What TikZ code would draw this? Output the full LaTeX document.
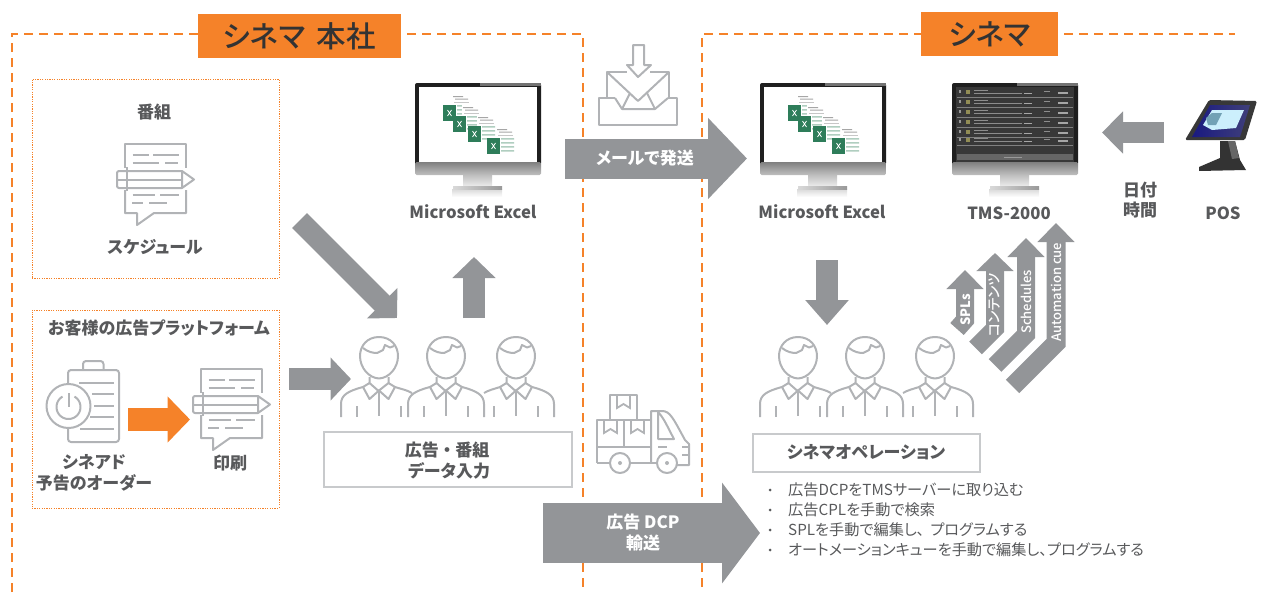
\documentclass[tikz,border=0pt]{standalone}
\usepackage{fontspec}
\setmainfont[RawFeature=+palt]{Noto Sans CJK JP}
\newfontfamily\medf[RawFeature=+palt]{Noto Sans CJK JP Medium}
\usetikzlibrary{arrows.meta}
\definecolor{org}{HTML}{F58229}
\definecolor{arw}{HTML}{939598}
\definecolor{ico}{HTML}{B1B3B6}
\definecolor{txt}{HTML}{58595B}
\definecolor{xgreen}{HTML}{2E7D5A}
\tikzset{
  fat/.style n args={3}{draw=#1,fill=none,line width=#2,line join=miter,-{Triangle[length=#3,width=1.9*#2,fill=#1]}},
  ic/.style={draw=ico,line width=2pt,line join=round,fill=none},
  ict/.style={draw=ico,line width=1.8pt},
  lab/.style={font=\bfseries\fontsize{17}{19}\selectfont,text=txt,inner sep=0pt,anchor=center},
  lat/.style={font=\bfseries\fontsize{16.7}{19}\selectfont,text=txt,inner sep=0pt,anchor=center},
  wlab/.style={font=\bfseries\fontsize{17}{19}\selectfont,text=white,inner sep=0pt,anchor=center},
  vlab/.style={font=\medf\fontsize{13}{14}\selectfont,text=white,inner sep=0pt,rotate=90,anchor=center},
  bul/.style={font=\fontsize{15.2}{17}\selectfont,text=txt,inner sep=0pt,anchor=west},
  hq/.style={draw=org,line width=1.6pt,dash pattern=on 9pt off 6pt},
  dotbox/.style={draw=org,line width=.9pt,dash pattern=on 1.2pt off 1.2pt},
  whitebox/.style={draw=ico!70,line width=1.4pt,fill=white},
  title/.style={fill=org,text=black!80,font=\medf\fontsize{29.5}{31}\selectfont,inner sep=0pt,anchor=center},
  docicon/.pic={
    \draw[ic] (0,24)--(0,0)--(61,0)--(61,24);
    \draw[ic] (0,46)--(0,69)--(12,69)--(12,81)--(29,69)--(61,69)--(61,46);
    \draw[ic,rounded corners=2pt] (57,27)--(-8,27)--(-8,44)--(57,44);
    \draw[ic] (57,27)--(69,35.5)--(57,44)--cycle;
    \draw[ic] (-8,35.5)--(57,35.5);
    \draw[ic] (2,23)--(2,47);
    \draw[ict] (7.5,11)--(24,11) (28,11)--(54,11) (7.5,19)--(34,19) (40,19)--(53,19);
    \draw[ict] (7.5,51)--(30,51) (35,51)--(54,51) (7,59)--(18,59) (24,59)--(42,59);
  },
  personicon/.pic={
    \draw[ic] (0,-21) .. controls (12,-21) and (19,-12) .. (19,-2) .. controls (19,10) and (10,20) .. (0,20.5) .. controls (-10,20) and (-19,10) .. (-19,-2) .. controls (-19,-12) and (-12,-21) .. (0,-21) -- cycle;
    \draw[ic] (-16,-10) .. controls (-11,-6) and (-6,-5) .. (-2,-5) -- (4,-8) -- (6,-13) -- (11,-10.5) -- (15,-12);
    \draw[ic] (-9.5,19)--(-9.5,25)--(-1,32.5)--(0,32.5)--(9.5,25)--(9.5,19);
    \draw[ic] (-9.5,25)--(-16,29)--(-9.5,41)--(0,32.5)--(9.5,41)--(16,29)--(9.5,25);
    \draw[ic] (0,32.5)--(0,58);
    \draw[ict] (-21.7,48)--(-21.7,59) (22,48)--(22,59);
  },
  leftfull/.pic={\draw[ic] (-38,59)--(-38,46) .. controls (-38,37) and (-31,33) .. (-16,29);},
  rightfull/.pic={\draw[ic] (16,29) .. controls (31,33) and (38,37) .. (38,46)--(38,59);},
  leftstub/.pic={\draw[ic] (-32,35) .. controls (-27,32) and (-22,31) .. (-16,29);},
  rightstub/.pic={\draw[ic] (16,29) .. controls (22,31) and (28,32) .. (33,35);},
  monitorbase/.pic={
    \shade[top color=black!15,bottom color=white] (37,106) rectangle (87,114);
    \shade[top color=black!25,bottom color=black!8] (48,92) rectangle (77,103);
    \shade[left color=black!15,right color=black!40] (38,103) rectangle (87,106.5);
    \fill[rounded corners=2pt,black!88] (0,0) rectangle (126,82);
    \fill[black!55] (65,0) rectangle (126,3);
    \shade[top color=black!50,bottom color=black!25,rounded corners=1.5pt] (0,79) rectangle (126,92);
  },
  excelscreen/.pic={
    \fill[white] (4,3.5) rectangle (122,78.5);
    \foreach \gx/\gy in {28/22,38/33,53/43,72/55}{
      \begin{scope}[shift={(\gx,\gy)}]
        \fill[white] (9,-11) rectangle (29,19);
        \fill[black!35] (10,-9) rectangle (20,-8) (12,-6.5) rectangle (25,-5.5);
        \fill[black!22] (11,-3.5) rectangle (26,-2.8);
        \fill[xgreen!38] (14,0) rectangle (27,1.6) (14,4) rectangle (27,5.6) (14,8) rectangle (27,9.6) (14,12) rectangle (27,13.6);
        \fill[xgreen] (0,0) rectangle (13,16);
        \draw[white,line width=.8pt] (4.5,5)--(8.5,11) (8.5,5)--(4.5,11);
      \end{scope}}
  },
  tmsscreen/.pic={
    \fill[black!78] (4,4) rectangle (122,79);
    \foreach \ry in {9,19,29,39,49,57}{
      \draw[black!50,line width=.5pt] (5,\ry+5)--(121,\ry+5);
      \fill[black!40] (7,\ry-2) rectangle (9,\ry+1);
      \fill[olive!60!black!70!white] (14,\ry-2) rectangle (18,\ry+2);
      \fill[black!45] (22,\ry-2.5) rectangle (36,\ry-1.5);
      \fill[black!45] (22,\ry+1) rectangle (70,\ry+1.8);
      \fill[black!35] (72,\ry+.5) rectangle (80,\ry+2);
      \fill[black!45] (92,\ry-1) rectangle (98,\ry);
      \fill[black!35] (106,\ry) rectangle (116,\ry+2);
    }
    \fill[black!60] (5,71) rectangle (121,77);
    \fill[black!40] (52,73.5) rectangle (70,74.5);
  },
}
\begin{document}
\begin{tikzpicture}[x=1pt,y=-1pt]
\useasboundingbox (0,0) rectangle (1269,592);
% dashed frames
\draw[hq] (12,592)--(12,34)--(198,34);
\draw[hq] (407,34)--(583,34)--(583,592);
\draw[hq] (702,587)--(702,34)--(921,34);
\draw[hq] (1064,34)--(1235,34);
\node[title,minimum width=203pt,minimum height=44pt] (t1) at (299.5,36) {シネマ\hspace{5pt} 本社};
\node[title,minimum width=137pt,minimum height=44pt] (t2) at (989.5,34) {シネマ};
% left boxes
\node[dotbox,minimum width=247pt,minimum height=199pt,inner sep=0pt] (b1) at (155.5,178.5) {};
\node[dotbox,minimum width=247pt,minimum height=198pt,inner sep=0pt] (b2) at (155.5,409) {};
\node[lab] (l1) at (154,112) {番組};
\pic at (125,144) {docicon};
\node[lab] (l2) at (155,247) {スケジュール};
\node[lab] (l3) at (159,328) {お客様の広告プラットフォーム};
% clipboard
\draw[ic,rounded corners=3pt] (83,370)--(83,361)--(103.5,361)--(103.5,370);
\draw[ic,rounded corners=3pt] (68,385)--(68,370)--(119,370)--(119,442)--(68,442)--(68,427);
\draw[ict] (79,383)--(114,383) (92,394)--(114,394) (94,406)--(114,406) (90,417)--(114,417) (80,429)--(114,429);
\draw[ic,fill=white] (68.5,406) circle[radius=22pt];
\draw[ic] plot[domain=-60:240,samples=40,smooth] ({68.5+12*cos(\x)},{407+12*sin(\x)});
\draw[ic] (68.5,393)--(68.5,407);
\node[lab] (l4) at (94,462) {シネアド};
\node[lab] (l5) at (94,483) {予告のオーダー};
\coordinate (oa) at (128,419.5); \coordinate (ob) at (190,419.5);
\draw[fat={org}{23pt}{22.5pt},-{Triangle[length=22.5pt,width=45pt,fill=org]}] (oa)--(ob);
\pic at (201,369) {docicon};
\node[lab] (l6) at (230,463) {印刷};
% first gray arrows
\coordinate (d1) at (299.5,220.5); \coordinate (d2) at (397,318);
\draw[fat={arw}{21pt}{21pt},-{Triangle[length=21pt,width=42pt,fill=arw]}] (d1)--(d2);
\coordinate (g1) at (289,379); \coordinate (g2) at (351,379);
\draw[fat={arw}{22pt}{20.5pt},-{Triangle[length=20.5pt,width=42pt,fill=arw]}] (g1)--(g2);
\coordinate (u1) at (474,318); \coordinate (u2) at (474,257);
\draw[fat={arw}{22pt}{21pt},-{Triangle[length=21pt,width=42pt,fill=arw]}] (u1)--(u2);
% persons left
\foreach \px in {379,446,516}{\pic at (\px,358) {personicon};}
\pic at (379,358) {leftfull};
\pic at (379,358) {rightstub};
\pic at (446,358) {leftfull};
\pic at (446,358) {rightfull};
\pic at (516,358) {leftstub};
\pic at (516,358) {rightfull};
\node[whitebox,minimum width=248pt,minimum height=55pt,inner sep=0pt] (b3) at (448,459.5) {};
\node[lab] (l7) at (447,450) {広告\hspace{4pt}・\hspace{4pt}番組};
\node[lab] (l8) at (449,471) {データ入力};
% monitor 1
\pic at (415,83) {monitorbase};
\pic at (415,83) {excelscreen};
\node[lat] (l9) at (473,212) {Microsoft Excel};
% monitor 2
\pic at (760,83) {monitorbase};
\pic at (760,83) {excelscreen};
\node[lat] (l10) at (822,212) {Microsoft Excel};
% TMS
\pic at (952,83) {monitorbase};
\pic at (952,83) {tmsscreen};
\node[lat] (l11) at (1009,213) {TMS-2000};
% POS
\fill[black!78,rounded corners=1.5pt] (1185,140)--(1209,100)--(1257,101)--(1245,140)--cycle;
\shade[left color=blue!45!black!90,right color=blue!30!black!75] (1192,137)--(1210,105)--(1250,105)--(1240,137)--cycle;
\fill[cyan!20!white] (1203,125)--(1212,110)--(1244,110)--(1236,128)--(1212,130)--cycle;
\fill[cyan!55!black!70] (1206,118)--(1212,113)--(1222,113)--(1216,125)--(1208,125)--cycle;
\fill[black!80] (1220,141)--(1235,141)--(1240,160)--(1246,170)--(1199,171)--(1199,167)--(1220,158)--cycle;
\fill[black!60] (1228,141)--(1235,141)--(1239,158)--(1232,159)--cycle;
\node[lat] (l12) at (1223,213) {POS};
\node[lab] (l13) at (1140,190) {日付};
\node[lab] (l14) at (1140,210) {時間};
\coordinate (p1) at (1164,132.5); \coordinate (p2) at (1102,132.5);
\draw[fat={arw}{21pt}{21pt},-{Triangle[length=21pt,width=41pt,fill=arw]}] (p1)--(p2);
% mail
\draw[ic] (615,98)--(599,98)--(599,125)--(677,125)--(677,98)--(668,98);
\draw[ic] (615,98)--(622,109)--(655,109)--(668,98);
\draw[ic] (607,97)--(607,72)--(627,72) (650,72)--(669,72)--(669,97);
\draw[ic] (607,72)--(638,101)--(669,72);
\draw[ic] (622,109)--(630,93) (655,109)--(647,93);
\draw[ic] (633,65)--(633,45)--(644,45)--(644,65)--(651,65)--(638,77)--(627,65)--cycle;
\coordinate (m1) at (565,158.5); \coordinate (m2) at (747,158.5);
\draw[fat={arw}{40pt}{39pt},-{Triangle[length=39pt,width=79pt,fill=arw]}] (m1)--(m2);
\node[wlab] (l15) at (645,158) {メールで発送};
% truck
\draw[ic] (610,420)--(610,395)--(637,395)--(637,420);
\draw[ic] (597,463)--(597,420)--(651,420) (597,463)--(610,463) (630,463)--(657,463) (597,447)--(651,447) (624,420)--(624,447);
\draw[ic] (651,463)--(651,411)--(662,411) .. controls (670,411) and (673,418) .. (685,440) -- (689,444)--(689,465)--(677,465);
\draw[ic] (658,412)--(658,439)--(674,439) .. controls (668,428) and (664,418) .. (658,412);
\draw[ict] (658,447)--(667,447) (682,447)--(689,447) (682,455)--(689,455);
\draw[ict] (617,395)--(617,408)--(623.5,404)--(630,408)--(630,395);
\draw[ict] (604,420)--(604,433)--(610.5,429)--(617,433)--(617,420);
\draw[ict] (631,420)--(631,433)--(637.5,429)--(644,433)--(644,420);
\draw[ic,fill=white] (620,463) circle[radius=10pt] (667,463) circle[radius=10pt];
\fill[ico] (620,463) circle[radius=2pt] (667,463) circle[radius=2pt];
\coordinate (c1) at (543,533); \coordinate (c2) at (760,533);
\draw[fat={arw}{60pt}{38pt},-{Triangle[length=38pt,width=99pt,fill=arw]}] (c1)--(c2);
\node[wlab] (l16) at (643,522) {広告 DCP};
\node[wlab] (l17) at (643,543) {輸送};
% right side
\coordinate (n1) at (827,260); \coordinate (n2) at (827,325);
\draw[fat={arw}{22pt}{25pt},-{Triangle[length=25pt,width=42pt,fill=arw]}] (n1)--(n2);
\foreach \px in {798,865,935}{\pic at (\px,358) {personicon};}
\pic at (798,358) {leftfull};
\pic at (798,358) {rightstub};
\pic at (865,358) {leftfull};
\pic at (865,358) {rightfull};
\pic at (935,358) {leftstub};
\pic at (935,358) {rightfull};
\node[whitebox,minimum width=227pt,minimum height=38pt,inner sep=0pt] (b4) at (866.5,453) {};
\node[lab] (l18) at (866,452) {シネマオペレーション};
\foreach \yy/\tt/\nn in {490/広告DCPをTMSサーバーに取り込む/a,510/広告CPLを手動で検索/b,530/SPLを手動で編集し、\hspace{6pt}プログラムする/c,550/オートメーションキューを手動で編集し、プログラムする/d}{
  \node[bul] (bu\nn) at (788,\yy) {\tt};
  \fill[txt] (770,\yy) circle[radius=1.5pt];
}
% bent arrows
\coordinate (s1) at (957,329); \coordinate (s2) at (965,320); \coordinate (s3) at (965,270);
\draw[fat={arw}{18pt}{19pt},-{Triangle[length=19pt,width=36pt,fill=arw]}] (s1)--(s2)--(s3);
\coordinate (k1) at (975.5,348); \coordinate (k2) at (995,328.5); \coordinate (k3) at (995,253);
\draw[fat={arw}{18pt}{18pt},-{Triangle[length=18pt,width=36pt,fill=arw]}] (k1)--(k2)--(k3);
\coordinate (h1) at (995,365.5); \coordinate (h2) at (1026,334.5); \coordinate (h3) at (1026,238);
\draw[fat={arw}{18pt}{19pt},-{Triangle[length=19pt,width=36pt,fill=arw]}] (h1)--(h2)--(h3);
\coordinate (a1) at (1012.5,386.5); \coordinate (a2) at (1056,343); \coordinate (a3) at (1056,223);
\draw[fat={arw}{19pt}{19pt},-{Triangle[length=19pt,width=36pt,fill=arw]}] (a1)--(a2)--(a3);
\node[vlab,font=\bfseries\fontsize{13}{14}\selectfont] (v1) at (966,310) {SPLs};
\node[vlab,font=\medf\fontsize{14}{15}\selectfont] (v2) at (995,305) {コンテンツ};
\node[vlab] (v3) at (1026,302) {Schedules};
\node[vlab] (v4) at (1056,292) {Automation cue};
\end{tikzpicture}
\end{document}
